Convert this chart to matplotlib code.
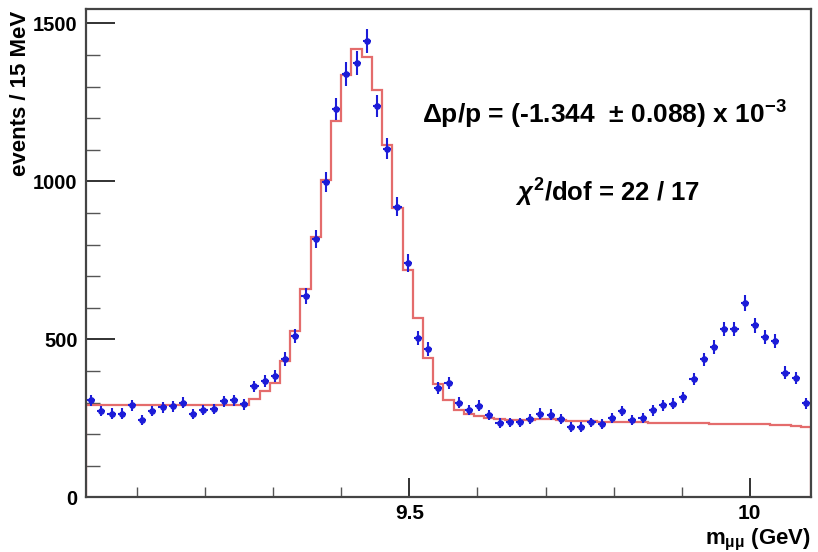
import numpy as np
import matplotlib
matplotlib.use("Agg")
import matplotlib.pyplot as plt
from matplotlib.ticker import MultipleLocator, FixedLocator

# Dimuon mass spectrum, 15 MeV bins
x_lo, bin_w, n_bins = 9.025, 0.015, 71

events = [307, 274, 265, 265, 291, 246, 274, 285, 288, 300,
          264, 277, 280, 304, 307, 295, 351, 368, 383, 438,
          511, 637, 818, 998, 1230, 1340, 1375, 1445, 1238, 1103,
          920, 742, 504, 470, 347, 362, 300, 277, 290, 260,
          235, 237, 237, 248, 265, 262, 248, 222, 222, 237,
          233, 251, 273, 246, 251, 275, 291, 296, 317, 375,
          437, 477, 533, 533, 615, 545, 508, 496, 395, 377, 298]

fit = [292] * 16 + [310, 336, 363, 430, 525, 658, 823, 1003, 1192, 1338,
                    1418, 1395, 1290, 1115, 915, 720, 567, 440, 358, 308,
                    277, 265, 256, 250,
                    247, 246, 245, 246, 248, 247, 244, 242, 240, 240,
                    239, 238, 238, 237, 237, 236, 236, 235, 235, 234,
                    234, 233, 233, 232, 232, 231, 231, 230, 230, 225, 224]

fit_text = r"Δp/p = (-1.344  $\pm$ 0.088) x 10$^{-3}$"
chi2_text = r"$\chi^{2}$/dof = 22 / 17"

plt.rcParams["font.family"] = ["Liberation Sans", "DejaVu Sans"]
plt.rcParams["font.weight"] = "bold"
plt.rcParams["mathtext.fontset"] = "custom"
plt.rcParams["mathtext.rm"] = "Liberation Sans:bold"
plt.rcParams["mathtext.it"] = "Liberation Sans:italic"
plt.rcParams["mathtext.bf"] = "Liberation Sans:bold"

edges = x_lo + bin_w * np.arange(n_bins + 1)
centers = 0.5 * (edges[:-1] + edges[1:])
events = np.array(events, dtype=float)
fit = np.array(fit, dtype=float)

fig = plt.figure(figsize=(8.18, 5.52), dpi=100)
ax = fig.add_axes([86 / 818, 0.0991, (811 - 86) / 818, 0.9832 - 0.0991])

ax.stairs(fit, edges, color="#e46c6c", lw=1.6, zorder=2)
ax.errorbar(centers, events, yerr=np.sqrt(events), xerr=0.006,
            fmt="o", ms=3.8, color="#1c1cd8", ecolor="#1c1cd8",
            elinewidth=1.5, capsize=0, zorder=3)

ax.set_xlim(edges[0], 10.09)
ax.set_ylim(0, 1545)

ax.xaxis.set_major_locator(FixedLocator([9.5, 10.0]))
ax.xaxis.set_minor_locator(MultipleLocator(0.1))
ax.set_xticklabels(["9.5", "10"])
ax.yaxis.set_major_locator(MultipleLocator(500))
ax.yaxis.set_minor_locator(MultipleLocator(100))

ax.tick_params(axis="x", which="major", direction="in", length=14, width=1.3,
               labelsize=15, pad=5, color="#222222")
ax.tick_params(axis="x", which="minor", direction="in", length=7, width=1.0,
               color="#555555")
ax.tick_params(axis="y", which="major", direction="in", length=21, width=1.3,
               labelsize=14.5, pad=6, color="#222222")
ax.tick_params(axis="y", which="minor", direction="in", length=10, width=1.0,
               color="#555555")
for lab in ax.get_xticklabels() + ax.get_yticklabels():
    lab.set_fontweight("bold")

for sp in ax.spines.values():
    sp.set_linewidth(1.6)
    sp.set_color("#444444")

fig.text(422 / 818, (552 - 115) / 552, fit_text, fontsize=19,
         fontweight="bold", ha="left", va="center")
fig.text(515 / 818, (552 - 193) / 552, chi2_text, fontsize=18.5,
         fontweight="bold", ha="left", va="center")

fig.text(21 / 818, (552 - 11) / 552, "events / 15 MeV", rotation=90,
         fontsize=16, fontweight="bold", ha="center", va="top")
fig.text(811 / 818, (552 - 544) / 552, r"m$_{\rm μμ}$ (GeV)", fontsize=16,
         fontweight="bold", ha="right", va="baseline")

fig.savefig("out.png", dpi=100, facecolor="white")
